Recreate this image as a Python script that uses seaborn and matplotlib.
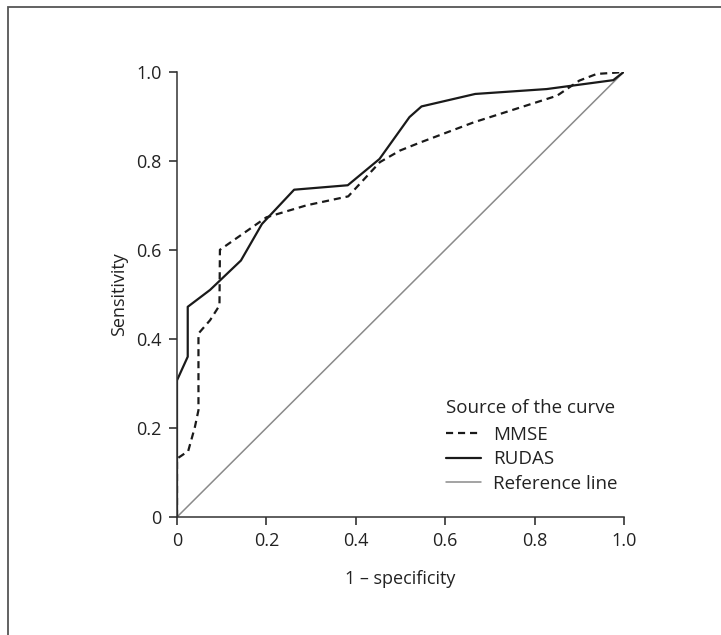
import pandas as pd
import seaborn as sns
import matplotlib.pyplot as plt
from matplotlib.lines import Line2D
from matplotlib.patches import Rectangle

# ROC curve points
mmse_fpr = [0, 0, 0.025, 0.04, 0.048, 0.048, 0.074, 0.095, 0.096, 0.2, 0.29, 0.383,
            0.454, 0.499, 0.544, 0.663, 0.85, 0.90, 0.939, 0.984, 1.0]
mmse_tpr = [0, 0.131, 0.148, 0.202, 0.24, 0.412, 0.442, 0.475, 0.6, 0.673, 0.70, 0.72,
            0.797, 0.823, 0.841, 0.886, 0.946, 0.98, 0.995, 0.998, 1.0]
rudas_fpr = [0, 0, 0.024, 0.024, 0.074, 0.143, 0.19, 0.262, 0.382, 0.453, 0.52,
             0.547, 0.667, 0.827, 0.976, 1.0]
rudas_tpr = [0, 0.307, 0.36, 0.472, 0.51, 0.576, 0.658, 0.735, 0.745, 0.804, 0.898,
             0.922, 0.95, 0.961, 0.981, 1.0]
ref_x = [0, 1]
ref_y = [0, 1]
ticks = [0, 0.2, 0.4, 0.6, 0.8, 1.0]
tick_labels = ['0', '0.2', '0.4', '0.6', '0.8', '1.0']

sns.set_style('ticks')
plt.rcParams['font.family'] = ['Open Sans', 'DejaVu Sans']
plt.rcParams['text.color'] = '#222222'
plt.rcParams['axes.labelcolor'] = '#222222'
plt.rcParams['xtick.color'] = '#222222'
plt.rcParams['ytick.color'] = '#222222'

fig = plt.figure(figsize=(7.21, 6.35), dpi=100)
ax = fig.add_axes([0.2455, 0.1858, 0.62, 0.7013])

sns.lineplot(x=ref_x, y=ref_y, color='#8a8a8a', linewidth=1.1, ax=ax,
             estimator=None, sort=False)
sns.lineplot(x=mmse_fpr, y=mmse_tpr, color='#1a1a1a', linewidth=1.6, ax=ax,
             estimator=None, sort=False, linestyle=(0, (3.2, 2.2)))
sns.lineplot(x=rudas_fpr, y=rudas_tpr, color='#1a1a1a', linewidth=1.6, ax=ax,
             estimator=None, sort=False)

ax.set_xlim(0, 1)
ax.set_ylim(0, 1)
ax.set_xticks(ticks)
ax.set_xticklabels(tick_labels)
ax.set_yticks(ticks)
ax.set_yticklabels(tick_labels)
ax.tick_params(labelsize=13, length=6, width=1.1, pad=5)
ax.set_xlabel('1 – specificity', fontsize=13, labelpad=14)
ax.set_ylabel('Sensitivity', fontsize=13, labelpad=6)
sns.despine(ax=ax)
for s in ['left', 'bottom']:
    ax.spines[s].set_linewidth(1.1)
    ax.spines[s].set_color('#333333')

handles = [Line2D([], [], color='#1a1a1a', lw=1.6, ls=(0, (3.2, 2.2))),
           Line2D([], [], color='#1a1a1a', lw=1.6),
           Line2D([], [], color='#8a8a8a', lw=1.1)]
leg = ax.legend(handles, ['MMSE', 'RUDAS', 'Reference line'], title='Source of the curve',
                loc='upper left', bbox_to_anchor=(0.602, 0.264), frameon=False,
                fontsize=13.5, title_fontsize=13.5, borderpad=0, borderaxespad=0,
                handlelength=1.85, handletextpad=0.65, labelspacing=0.35)
leg._legend_box.align = 'left'
leg._legend_box.sep = 6

# outer frame of the figure panel
fig.patches.append(Rectangle((0.011, -0.2), 1.5, 1.189, transform=fig.transFigure,
                             fill=False, edgecolor='#555555', linewidth=1.3))

fig.savefig('out.png', dpi=100)
